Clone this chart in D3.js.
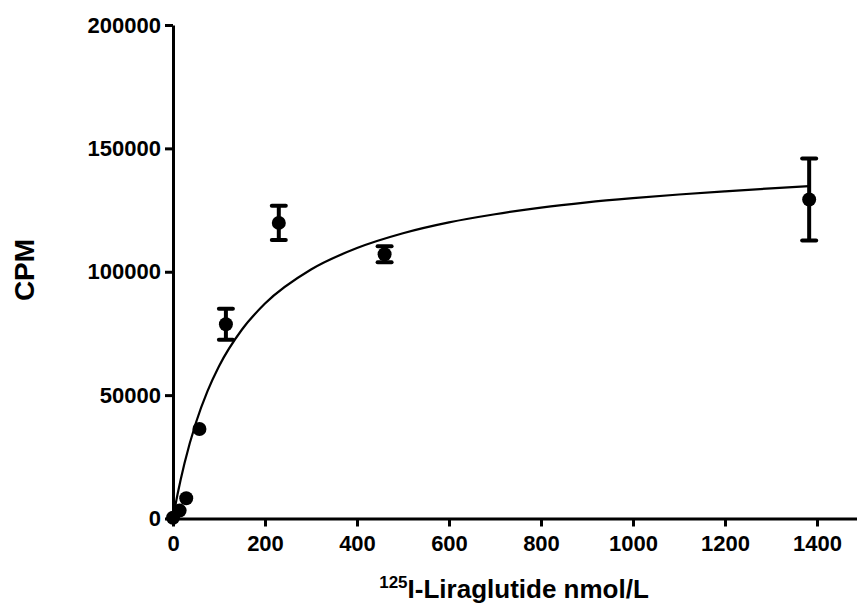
<!DOCTYPE html>
<html>
<head>
<meta charset="utf-8">
<script src="https://cdn.jsdelivr.net/npm/d3@7"></script>
<style>
  body { margin: 0; background: #fff; }
  text { font-family: "Liberation Sans", Arial, sans-serif; font-weight: bold; fill: #000; }
</style>
</head>
<body>
<div id="container"></div>
<script>
// measured points (nmol/L vs CPM), with SEM bars
const conc = [0, 14.4, 28.75, 57.5, 115, 230, 460, 1383];
const cpm = [300, 3200, 8200, 36300, 78700, 119800, 107100, 129300];
const sem = [0, 0, 0, 0, 6300, 6900, 3200, 16600];

// fitted curve
const fitX = [0, 10, 25, 50, 75, 100, 150, 200, 300, 400, 500, 600, 700, 800, 900, 1000, 1100, 1200, 1300, 1383];
const fitY = [0, 9900, 22400, 38900, 51600, 61700, 76600, 87100, 100900, 109600, 115600, 120000, 123300, 126000, 128100, 129800, 131300, 132600, 133800, 134700];

const xTicks = [0, 200, 400, 600, 800, 1000, 1200, 1400];
const yTicks = [0, 50000, 100000, 150000, 200000];

const width = 857, height = 604;

const svg = d3.select("#container").append("svg")
    .attr("width", width)
    .attr("height", height);

const x = d3.scaleLinear()
    .domain([0, 1487])
    .range([173, 857]);

const y = d3.scaleLinear()
    .domain([0, 200000])
    .range([518.5, 25]);

// axes
const xAxis = d3.axisBottom(x)
    .tickValues(xTicks)
    .tickFormat(d3.format("d"))
    .tickSizeOuter(0)
    .tickSizeInner(8)
    .tickPadding(7);

const yAxis = d3.axisLeft(y)
    .tickValues(yTicks)
    .tickFormat(d3.format("d"))
    .tickSizeOuter(0)
    .tickSizeInner(8)
    .tickPadding(4);

const gx = svg.append("g")
    .attr("transform", `translate(0, ${y(0)})`)
    .call(xAxis);

const gy = svg.append("g")
    .attr("transform", `translate(${x(0)}, 0)`)
    .call(yAxis);

[gx, gy].forEach(g => {
    g.select(".domain").attr("stroke", "#000").attr("stroke-width", 3);
    g.selectAll(".tick line").attr("stroke", "#000").attr("stroke-width", 3);
    g.selectAll(".tick text").style("font-size", "22px").attr("fill", "#000");
});
gx.selectAll(".tick text").attr("dy", "0.8em");

// fitted curve
const line = d3.line()
    .x((d, i) => x(fitX[i]))
    .y(d => y(d))
    .curve(d3.curveMonotoneX);

svg.append("path")
    .attr("d", line(fitY))
    .attr("fill", "none")
    .attr("stroke", "#000")
    .attr("stroke-width", 2.2);

// error bars
const pts = conc.map((c, i) => ({ c: c, v: cpm[i], e: sem[i] }));
const bars = svg.append("g").selectAll("g")
    .data(pts.filter(d => d.e > 0))
    .enter().append("g");

bars.append("line")
    .attr("x1", d => x(d.c)).attr("x2", d => x(d.c))
    .attr("y1", d => y(d.v - d.e)).attr("y2", d => y(d.v + d.e))
    .attr("stroke", "#000").attr("stroke-width", 4);

["top", "bottom"].forEach(side => {
    bars.append("line")
        .attr("x1", d => x(d.c) - 7).attr("x2", d => x(d.c) + 7)
        .attr("y1", d => y(side == "top" ? d.v + d.e : d.v - d.e))
        .attr("y2", d => y(side == "top" ? d.v + d.e : d.v - d.e))
        .attr("stroke", "#000").attr("stroke-width", 4)
        .attr("stroke-linecap", "round");
});

// points
svg.append("g").selectAll("circle")
    .data(pts)
    .enter().append("circle")
    .attr("cx", d => x(d.c))
    .attr("cy", d => y(d.v))
    .attr("r", 7)
    .attr("fill", "#000");

// axis titles
svg.append("text")
    .attr("transform", "translate(34, 270) rotate(-90)")
    .attr("text-anchor", "middle")
    .style("font-size", "28px")
    .text("CPM");

const xt = svg.append("text")
    .attr("x", 514)
    .attr("y", 598)
    .attr("text-anchor", "middle")
    .style("font-size", "26px");
xt.append("tspan").attr("dy", "-10").style("font-size", "17px").text("125");
xt.append("tspan").attr("dy", "10").text("I-Liraglutide nmol/L");
</script>
</body>
</html>
